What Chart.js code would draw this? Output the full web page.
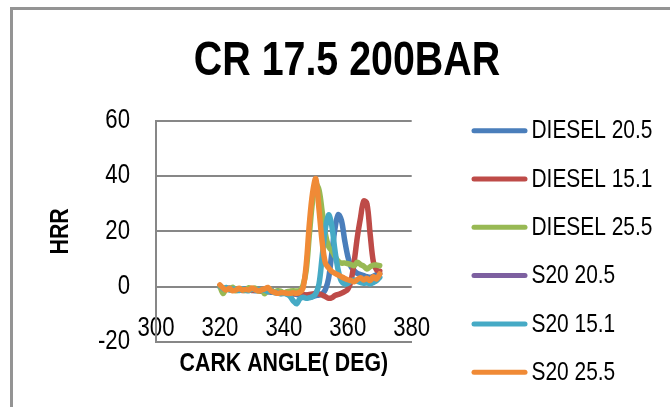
<!DOCTYPE html>
<html>
<head>
<meta charset="utf-8">
<script src="https://cdn.jsdelivr.net/npm/chart.js@4.4.1/dist/chart.umd.min.js"></script>
<style>
  html, body { margin: 0; padding: 0; background: #fff; }
  #frame { position: absolute; left: 10px; top: 7px; width: 700px; height: 440px;
           border-left: 3px solid #949494; border-top: 3px solid #949494; }
  #wrap { position: absolute; left: 0; top: 0; width: 670px; height: 407px; }
</style>
</head>
<body>
<div id="frame"></div>
<div id="wrap"><canvas id="hrrChart"></canvas></div>
<script>
// --- data ---
const chartTitle = "CR 17.5 200BAR";
const angles = [320,321,322,323,324,325,326,327,328,329,330,331,332,333,334,335,336,337,338,339,
                340,341,342,343,344,345,346,347,348,349,350,351,352,353,354,355,356,357,358,359,
                360,361,362,363,364,365,366,367,368,369,370];
const seriesNames = ["DIESEL 20.5", "DIESEL 15.1", "DIESEL 25.5", "S20 20.5", "S20 15.1", "S20 25.5"];
const seriesColors = ["#4a7ebb", "#be4b48", "#98b954", "#7d60a0", "#46aac5", "#f08a36"];

const diesel205 = [0,-0.6,-1.0,-0.5,-1.2,-1.0,-1.2,-1.0,-0.8,-1.3,-1.0,-1.5,-1.2,-1.6,-1.4,-1.6,-2.0,-1.8,-2.2,-2.4,
                   -2.2,-2.6,-2.8,-2.6,-2.8,-3.0,-3.2,-3.0,-3.4,-3.6,-3.2,-3.0,-2.6,-1.0,3,12,21,26,24,17,
                   11,7.2,5.8,4.8,4.4,4.0,3.6,3.4,3.8,4.4,4.8];
const diesel151 = [0.4,-0.8,-0.6,-1.0,-1.0,-1.2,-1.0,-1.4,-1.2,-1.0,-1.4,-1.2,-1.4,-1.6,-1.4,-1.8,-1.6,-2.0,-2.2,-2.0,
                   -2.4,-2.2,-2.4,-2.6,-2.4,-2.6,-2.8,-3.0,-2.8,-2.6,-2.4,-2.6,-3.0,-3.6,-4.2,-4.0,-3.2,-2.8,-2.4,-1.8,
                   -1.0,2,9,18,25,31,30,19,9,6,5.6];
const diesel255 = [0.2,-2.5,-0.5,-1.0,-0.2,-1.5,-0.8,-1.0,-1.4,-0.4,-1.0,-0.5,-1.6,-1.0,-2.6,-0.6,-1.2,-1.8,-1.5,-1.6,
                   -2.2,-1.8,-1.6,-1.5,-1.6,-1.4,0.5,6,19,31,37,35,27,19,14.5,13,11,9.2,8.5,8.6,
                   8.3,8.0,7.6,8.8,8.0,7.4,6.4,7.2,7.8,7.8,7.6];
const s20205 = [];
const s20151 = [0.3,-0.8,-0.3,-1.2,-0.8,-1.0,-1.4,-0.8,-1.2,-1.5,-0.8,-1.2,-1.0,-1.4,-1.2,-1.8,-1.2,-2.2,-2.0,-2.6,
                -2.4,-2.8,-3.6,-5.2,-6.2,-4.4,-3.8,-4.2,-4.0,-3.6,-2.5,1,11,21,26,22,13,6,2,1,
                1.2,2,2.4,2,1.5,1.2,1.4,1,1.5,2.2,3.4];
const s20255 = [0.6,-0.5,-1.2,-0.6,-1.5,-1.2,-0.6,-1.2,-1.0,-1.2,-0.5,-1.0,-1.5,-1.2,-0.8,-0.3,-1.5,-2.0,-2.4,-2.2,
                -2.2,-2.4,-2.4,-2.2,-2.4,-2.0,-0.5,8,23,34,39,28,16,8.5,6.8,5.5,4.8,4.2,3.6,3.0,
                2.5,2.2,1.8,2.6,3.2,2.4,3.0,2.2,3.6,2.8,4.6];
const allSeries = [diesel205, diesel151, diesel255, s20205, s20151, s20255];

const xTicks = [300, 320, 340, 360, 380];
const yTicks = [-20, 0, 20, 40, 60];

// no narrow font is installed, so squeeze Liberation Sans the way Arial Narrow does
const FONT = "'Liberation Sans', Arial, sans-serif";
const NARROW = 0.82;

const canvas = document.getElementById('hrrChart');
const ctx2d = canvas.getContext('2d');
const rawFillText = ctx2d.fillText.bind(ctx2d);
ctx2d.fillText = function (text, x, y, maxWidth) {
    this.save();
    this.translate(x, y);
    this.scale(NARROW, 1);
    if (maxWidth === undefined) rawFillText(text, 0, 0);
    else rawFillText(text, 0, 0, maxWidth / NARROW);
    this.restore();
};

const datasets = allSeries.map((vals, i) => ({
    label: seriesNames[i],
    data: vals.map((v, k) => ({ x: angles[k], y: v })),
    borderColor: seriesColors[i],
    backgroundColor: seriesColors[i],
    borderWidth: 5.5,
    borderCapStyle: 'round',
    borderJoinStyle: 'round',
    pointRadius: 0,
    tension: 0.35,
    fill: false,
    order: allSeries.length - i
}));

// title and legend drawn by hand so they sit where the original has them
const decorPlugin = {
    id: 'decor',
    afterDraw(chart) {
        const ctx = chart.ctx;
        ctx.save();
        ctx.fillStyle = '#000';
        ctx.font = "bold 48px " + FONT;
        ctx.textAlign = 'center';
        ctx.textBaseline = 'alphabetic';
        ctx.fillText(chartTitle, 347, 75);

        ctx.font = "25.5px " + FONT;
        ctx.textAlign = 'left';
        seriesNames.forEach((name, i) => {
            const y = 130.7 + i * 48.3;
            ctx.strokeStyle = seriesColors[i];
            ctx.lineWidth = 5;
            ctx.lineCap = 'round';
            ctx.beginPath();
            ctx.moveTo(474, y);
            ctx.lineTo(525, y);
            ctx.stroke();
            ctx.fillStyle = '#000';
            ctx.fillText(name, 531.5, y + 7.6);
        });
        ctx.restore();
    }
};

new Chart(canvas, {
    type: 'line',
    data: { datasets },
    options: {
        responsive: true,
        maintainAspectRatio: false,
        animation: false,
        layout: { padding: { left: 0, top: 120.7, right: 258.3, bottom: 0 } },
        plugins: { legend: { display: false }, tooltip: { enabled: false }, title: { display: false } },
        scales: {
            x: {
                type: 'linear',
                min: 300, max: 380,
                afterBuildTicks: s => { s.ticks = xTicks.map(v => ({ value: v })); },
                afterFit: s => { s.height = 65; },
                grid: { display: false, drawTicks: false },
                border: { display: true, color: '#878787', width: 2 },
                ticks: { color: '#000', mirror: true, padding: -2.5, maxRotation: 0, autoSkip: false,
                         font: { family: FONT, size: 27 } },
                title: { display: true, text: 'CARK ANGLE( DEG)', color: '#000',
                         font: { family: FONT, size: 26, weight: 'bold' }, padding: { top: 0, bottom: 28 } }
            },
            y: {
                min: -20, max: 60,
                afterBuildTicks: s => { s.ticks = yTicks.map(v => ({ value: v })); },
                afterFit: s => { s.width = 156; },
                grid: { color: '#878787', lineWidth: 2, drawTicks: false },
                border: { display: true, color: '#878787', width: 2 },
                ticks: { color: '#000', padding: 26, font: { family: FONT, size: 27 } },
                title: { display: true, text: 'HRR', color: '#000',
                         font: { family: FONT, size: 26, weight: 'bold' }, padding: { top: 45.7, bottom: 0 } }
            }
        }
    },
    plugins: [decorPlugin]
});
</script>
</body>
</html>
